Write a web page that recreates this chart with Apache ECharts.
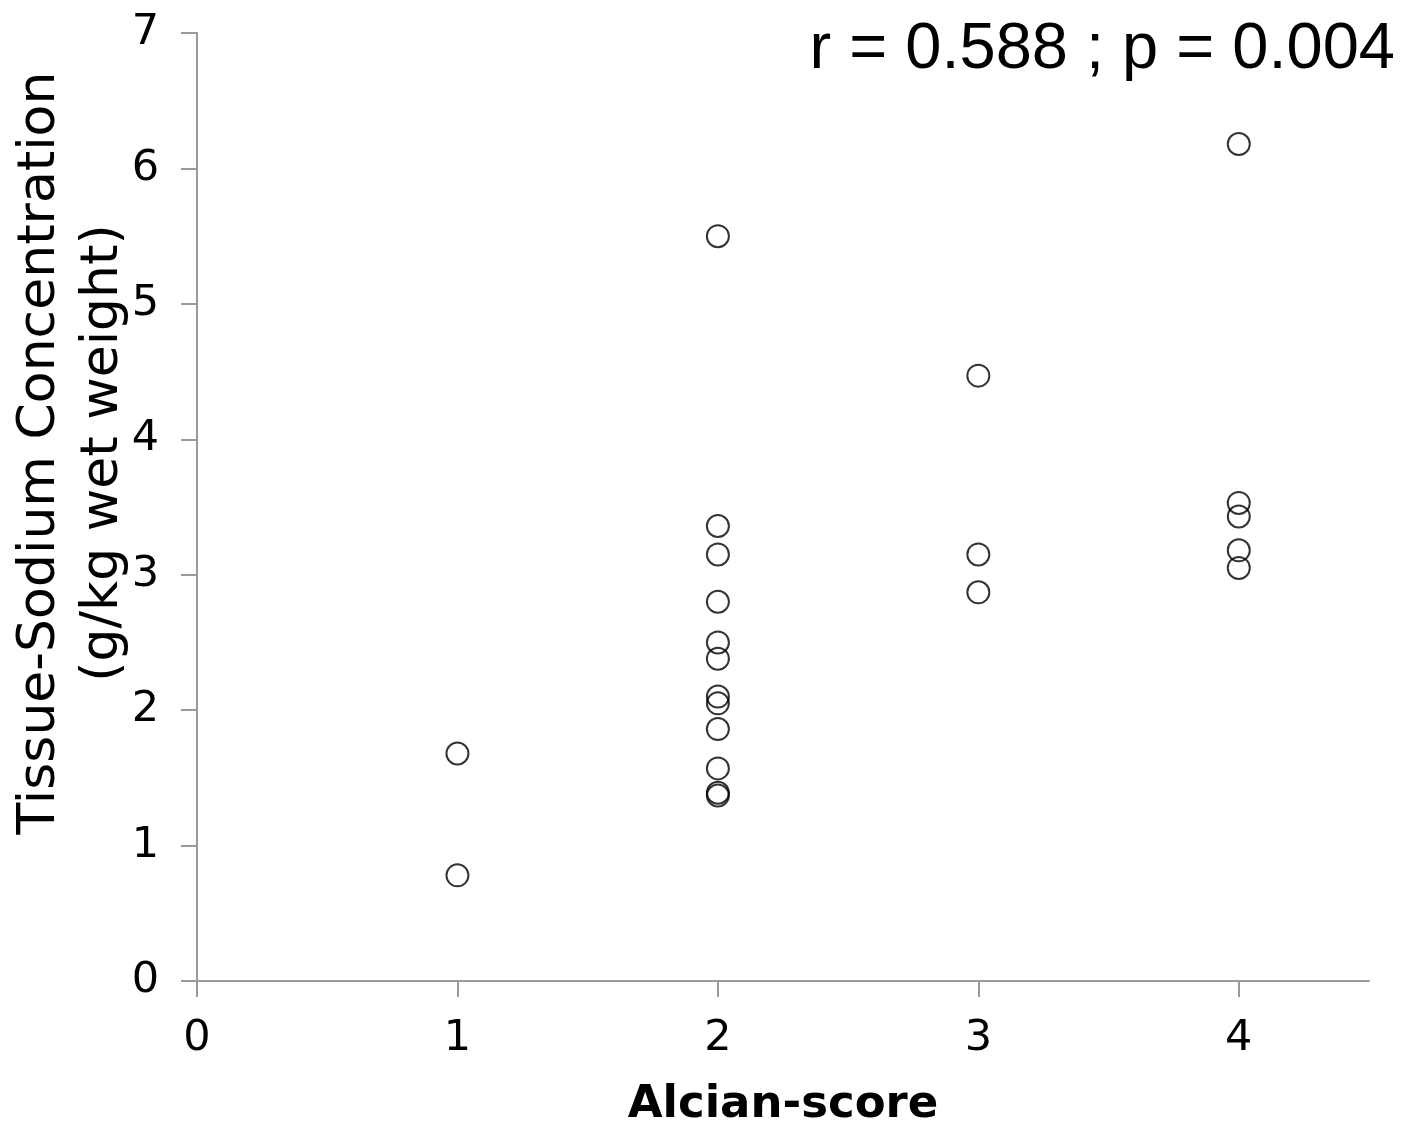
<!DOCTYPE html>
<html>
<head>
<meta charset="utf-8">
<script src="https://cdn.jsdelivr.net/npm/echarts@6/dist/echarts.min.js"></script>
<style>
html,body{margin:0;padding:0;background:#fff;}
#chart{width:1401px;height:1128px;}
</style>
</head>
<body>
<div id="chart"></div>
<script>
// Data
const alcianScore = [1, 1, 2, 2, 2, 2, 2, 2, 2, 2, 2, 2, 2, 2, 3, 3, 3, 4, 4, 4, 4, 4];
const sodiumConc  = [1.68, 0.78, 5.50, 3.36, 3.15, 2.80, 2.50, 2.38, 2.10, 2.05, 1.86, 1.57, 1.39, 1.37, 4.47, 3.15, 2.87, 6.18, 3.53, 3.43, 3.18, 3.05];
const xTicks = [0, 1, 2, 3, 4];
const yTicks = [0, 1, 2, 3, 4, 5, 6, 7];
const xName = 'Alcian-score';
const yNameLines = ['Tissue-Sodium Concentration', '(g/kg wet weight)'];
const statText = 'r = 0.588 ; p = 0.004';

const points = alcianScore.map((x, i) => [x, sodiumConc[i]]);

const axisGrey = '#9a9a9a';
const font = '"DejaVu Sans", Verdana, sans-serif';

const chart = echarts.init(document.getElementById('chart'), null, {renderer: 'canvas'});
chart.setOption({
  backgroundColor: '#ffffff',
  animation: false,
  grid: {left: 197, right: 32, top: 33, bottom: 147, containLabel: false, outerBoundsMode: 'none'},
  xAxis: {
    type: 'value',
    min: 0, max: 4.5, interval: 1,
    name: xName,
    nameLocation: 'middle',
    nameGap: 102,
    nameTextStyle: {fontFamily: font, fontWeight: 'bold', fontSize: 45, color: '#000'},
    axisLine: {show: true, onZero: false, lineStyle: {color: axisGrey, width: 2}},
    axisTick: {show: true, length: 16, inside: false, customValues: xTicks, lineStyle: {color: axisGrey, width: 2}},
    axisLabel: {margin: 36, fontFamily: font, fontSize: 43, color: '#000', customValues: xTicks},
    splitLine: {show: false}
  },
  yAxis: {
    type: 'value',
    min: 0, max: 7, interval: 1,
    axisLine: {show: true, onZero: false, lineStyle: {color: axisGrey, width: 2}},
    axisTick: {show: true, length: 16, inside: false, customValues: yTicks, lineStyle: {color: axisGrey, width: 2}},
    axisLabel: {margin: 38, fontFamily: font, fontSize: 43, color: '#000', customValues: yTicks},
    splitLine: {show: false}
  },
  graphic: [
    {
      type: 'text',
      x: 72, y: 453,
      rotation: Math.PI / 2,
      style: {
        text: yNameLines.join('\n'),
        fontFamily: font,
        fontSize: 52,
        lineHeight: 63,
        fill: '#000',
        align: 'center',
        verticalAlign: 'middle'
      }
    },
    {
      type: 'text',
      x: 1395, y: 50,
      style: {
        text: statText,
        fontFamily: '"Liberation Sans", Arial, sans-serif',
        fontSize: 65,
        fill: '#000',
        align: 'right',
        verticalAlign: 'middle'
      }
    }
  ],
  series: [{
    type: 'scatter',
    data: points,
    symbol: 'circle',
    symbolSize: 22,
    itemStyle: {color: 'rgba(0,0,0,0)', borderColor: '#000', borderWidth: 2}
  }]
});
</script>
</body>
</html>
